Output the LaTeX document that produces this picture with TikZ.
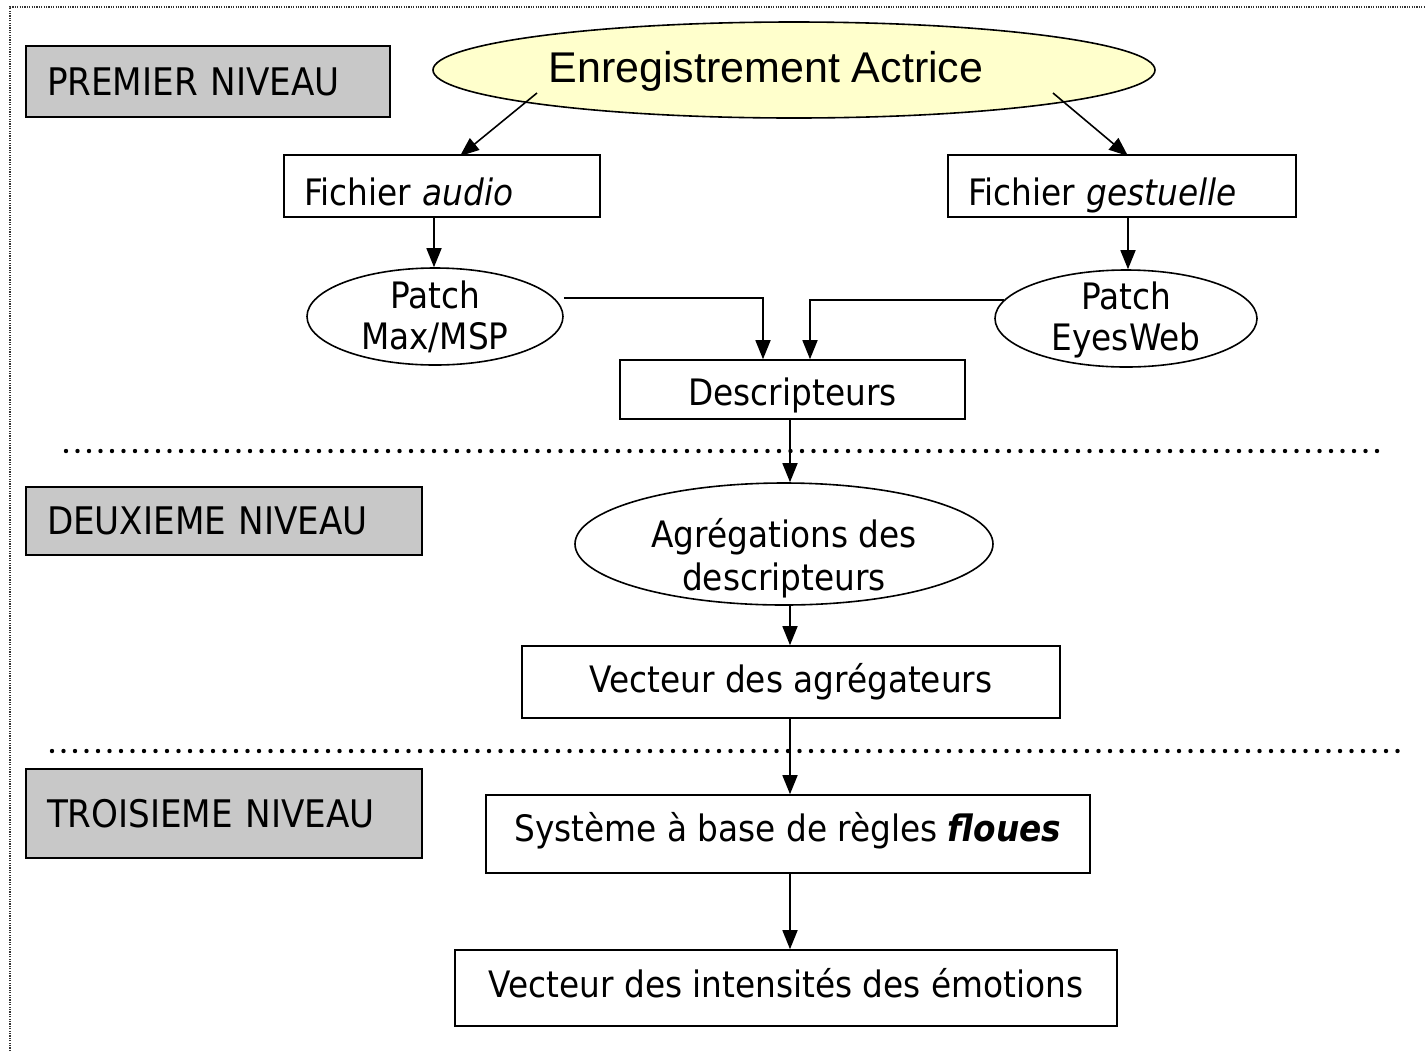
\documentclass[tikz,border=0pt]{standalone}
\usepackage{fontspec}
\setmainfont{DejaVu Sans Condensed}
\newfontfamily\arialfont{Liberation Sans}
\usetikzlibrary{arrows.meta,shapes.geometric}
\definecolor{lvlgray}{HTML}{C8C8C8}
\definecolor{lightyel}{HTML}{FFFFCC}
\newcommand\dn[2]{\raisebox{-#1}[\height][\depth]{\begin{tabular}{@{}c@{}}#2\end{tabular}}}
\newcommand\edn[3]{\raisebox{\dimexpr-#1-4.55pt\relax}[0pt][0pt]{\def\arraystretch{#2}\begin{tabular}{@{}c@{}}#3\end{tabular}}}
\begin{document}
\begin{tikzpicture}[x=0.5pt,y=-0.5pt,
  every node/.style={font=\fontsize{18.2}{22}\selectfont, line width=0.8pt, inner sep=0pt},
  lvl/.style={draw, fill=lvlgray, align=left, inner xsep=10.5pt, anchor=center, font=\fontsize{19}{22}\selectfont},
  boxc/.style={draw, rectangle, align=center},
  boxl/.style={draw, rectangle, align=left, inner xsep=10pt},
  ell/.style={draw, ellipse, align=center},
  arr/.style={line width=0.8pt, -{Triangle[length=9.5pt,width=7.5pt]}},
  sep/.style={line width=2.2pt, line cap=round, dash pattern=on 0pt off 5.75pt},
  frame/.style={line width=0.6pt, black!80, dash pattern=on 0.6pt off 0.6pt}
]
\useasboundingbox (0,0) rectangle (1425,1051);
% frame
\draw[frame] (10,1051) -- (10,7) -- (1425,7);

% level boxes
\node[lvl, text width=161pt, minimum height=35.5pt] (l1) at (208,81.5) {PREMIER NIVEAU};
\node[lvl, text width=177pt, minimum height=34pt] (l2) at (224,521) {DEUXIEME NIVEAU};
\node[lvl, text width=177pt, minimum height=44.5pt] (l3) at (224,813.5) {TROISIEME NIVEAU};

% top ellipse
\node[ell, fill=lightyel, minimum width=361pt, minimum height=48pt, font=\arialfont\fontsize{21.5}{24}\selectfont] (enr) at (794,70) {\dn{1.5pt}{Enregistrement Actrice}\hspace*{28pt}};

% files
\node[boxl, text width=138pt, minimum height=31pt] (audio) at (442,186) {\raisebox{-3pt}[\height][\depth]{Fichier \textit{audio}}};
\node[boxl, text width=154pt, minimum height=31pt] (gest) at (1122,186) {\raisebox{-4.5pt}[\height][\depth]{Fichier \textit{gestuelle}}};

% patches
\node[ell, minimum width=128pt, minimum height=48.5pt] (max) at (435,316.5) {\edn{1.8pt}{0.93}{Patch\\Max/MSP}};
\node[ell, minimum width=131pt, minimum height=48.5pt] (eye) at (1126,318.5) {\edn{1.55pt}{0.93}{Patch\\EyesWeb}};

% descripteurs
\node[boxc, minimum width=172.5pt, minimum height=29.5pt] (desc) at (792.5,389.5) {\dn{3.5pt}{Descripteurs}};

% separators
\draw[sep] (66,451) -- (1385,451);
\draw[sep] (52,751) -- (1405,751);

% level 2
\node[ell, minimum width=209pt, minimum height=61pt] (agr) at (784,544) {\edn{7.75pt}{0.98}{Agrégations des\\descripteurs}};
\node[boxc, minimum width=269pt, minimum height=36pt] (vagr) at (791,682) {Vecteur des agrégateurs};

% level 3
\node[boxc, minimum width=302pt, minimum height=39pt] (sys) at (788,834) {\dn{-0.5pt}{Système à base de règles \textbf{\textit{floues}}}};
\node[boxc, minimum width=331pt, minimum height=38pt] (vint) at (786,988) {\raisebox{2.5pt}[\height][\depth]{Vecteur des intensités des émotions}};

% connectors
\coordinate (a1s) at (537,93);
\coordinate (a2s) at (1053,93);
\draw[arr] (a1s) -- (460,156);
\draw[arr] (a2s) -- (1128,156);
\draw[arr] (audio.south -| 434,0) -- (max.north -| 434,0);
\draw[arr] (gest.south -| 1128,0) -- (eye.north -| 1128,0);
\draw[arr] (max.east |- 0,298) -- (763,298) -- (desc.north -| 763,0);
\draw[arr] (eye.west |- 0,300) ++(10,0) -- (810,300) -- (desc.north -| 810,0);
\draw[arr] (desc.south -| 790,0) -- (agr.north -| 790,0);
\draw[arr] (agr.south -| 790,0) -- (vagr.north -| 790,0);
\draw[arr] (vagr.south -| 790,0) -- (sys.north -| 790,0);
\draw[arr] (sys.south -| 790,0) -- (vint.north -| 790,0);
\end{tikzpicture}
\end{document}
